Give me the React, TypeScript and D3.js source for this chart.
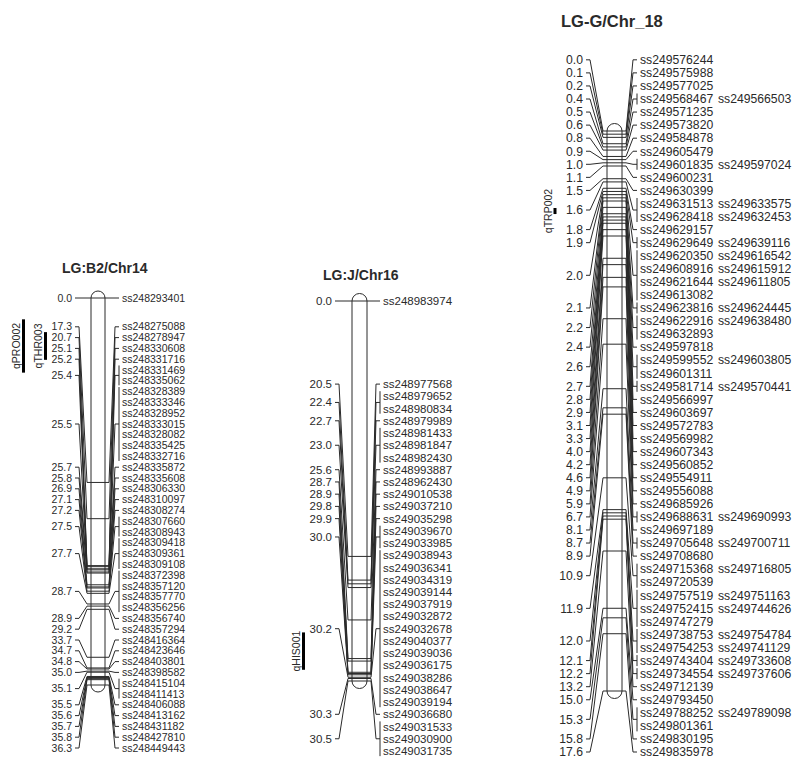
import * as d3 from "d3";

// ---- LG:B2/Chr14 ----
const chr14Pos = [0.0, 17.3, 20.7, 25.1, 25.2, 25.4, 25.5, 25.7, 25.8, 26.9, 27.1, 27.2, 27.5, 27.7, 28.7, 28.9, 29.2, 33.7, 34.7, 34.8, 35.0, 35.1, 35.5, 35.6, 35.7, 35.8, 36.3];
const chr14Markers = [
  ["ss248293401"],
  ["ss248275088"],
  ["ss248278947"],
  ["ss248330608"],
  ["ss248331716"],
  ["ss248331469", "ss248335062"],
  ["ss248328389", "ss248333346", "ss248328952", "ss248333015", "ss248328082", "ss248335425", "ss248332716"],
  ["ss248335872"],
  ["ss248335608"],
  ["ss248306330"],
  ["ss248310097"],
  ["ss248308274"],
  ["ss248307660", "ss248308943"],
  ["ss248309418", "ss248309361", "ss248309108"],
  ["ss248372398", "ss248357120", "ss248357770", "ss248356256"],
  ["ss248356740"],
  ["ss248357294"],
  ["ss248416364"],
  ["ss248423646"],
  ["ss248403801"],
  ["ss248398582"],
  ["ss248415104", "ss248411413"],
  ["ss248406088"],
  ["ss248413162"],
  ["ss248431182"],
  ["ss248427810"],
  ["ss248449443"],
];

// ---- LG:J/Chr16 ----
const chr16Pos = [0.0, 20.5, 22.4, 22.7, 23.0, 25.6, 28.7, 28.9, 29.8, 29.9, 30.0, 30.2, 30.3, 30.5];
const chr16Markers = [
  ["ss248983974"],
  ["ss248977568"],
  ["ss248979652", "ss248980834"],
  ["ss248979989"],
  ["ss248981433", "ss248981847", "ss248982430"],
  ["ss248993887"],
  ["ss248962430"],
  ["ss249010538"],
  ["ss249037210"],
  ["ss249035298"],
  ["ss249039670", "ss249033985"],
  ["ss249038943", "ss249036341", "ss249034319", "ss249039144", "ss249037919", "ss249032872", "ss249032678",
    "ss249040377", "ss249039036", "ss249036175", "ss249038286", "ss249038647", "ss249039194"],
  ["ss249036680"],
  ["ss249031533", "ss249030900", "ss249031735"],
];

// ---- LG-G/Chr_18 ----
const chr18Pos = [0.0, 0.1, 0.2, 0.4, 0.5, 0.6, 0.8, 0.9, 1.0, 1.1, 1.5, 1.6, 1.8, 1.9, 2.0, 2.1, 2.2, 2.4, 2.6, 2.7, 2.8, 2.9, 3.1, 3.3,
  4.0, 4.2, 4.6, 4.9, 5.9, 6.7, 8.1, 8.7, 8.9, 10.9, 11.9, 12.0, 12.1, 12.2, 13.2, 15.0, 15.3, 15.8, 17.6];
const chr18Markers = [
  ["ss249576244"],
  ["ss249575988"],
  ["ss249577025"],
  ["ss249568467", "ss249566503"],
  ["ss249571235"],
  ["ss249573820"],
  ["ss249584878"],
  ["ss249605479"],
  ["ss249601835", "ss249597024"],
  ["ss249600231"],
  ["ss249630399"],
  ["ss249631513", "ss249633575", "ss249628418", "ss249632453"],
  ["ss249629157"],
  ["ss249629649", "ss249639116"],
  ["ss249620350", "ss249616542", "ss249608916", "ss249615912", "ss249621644", "ss249611805", "ss249613082"],
  ["ss249623816", "ss249624445"],
  ["ss249622916", "ss249638480", "ss249632893"],
  ["ss249597818"],
  ["ss249599552", "ss249603805", "ss249601311"],
  ["ss249581714", "ss249570441"],
  ["ss249566997"],
  ["ss249603697"],
  ["ss249572783"],
  ["ss249569982"],
  ["ss249607343"],
  ["ss249560852"],
  ["ss249554911"],
  ["ss249556088"],
  ["ss249685926"],
  ["ss249688631", "ss249690993"],
  ["ss249697189"],
  ["ss249705648", "ss249700711"],
  ["ss249708680"],
  ["ss249715368", "ss249716805", "ss249720539"],
  ["ss249757519", "ss249751163", "ss249752415", "ss249744626", "ss249747279"],
  ["ss249738753", "ss249754784", "ss249754253", "ss249741129"],
  ["ss249743404", "ss249733608"],
  ["ss249734554", "ss249737606"],
  ["ss249712139"],
  ["ss249793450"],
  ["ss249788252", "ss249789098", "ss249801361"],
  ["ss249830195"],
  ["ss249835978"],
];

// QTL intervals (cM) per linkage group
const qtlNames = ["qPRO002", "qTHR003", "qHIS001", "qTRP002"];
const qtlGroup = [0, 0, 1, 2];
const qtlStart = [2.0, 3.2, 26.6, 2.42];
const qtlEnd = [7.0, 5.8, 29.6, 2.61];
const qtlColumn = [0, 1, 0, 0];

const FONT = "'Liberation Sans', Arial, Helvetica, sans-serif";
const INK = "#2a2a2a";

interface Group {
  title: string;
  pos: number[];
  markers: string[][];
  perRow: number;
  y0: number; y1: number;     // bar extent for 0 and max cM
  barX: number; barW: number;
  labelEnd: number; nameX: number; nameGap: number;
  rowH: number; fontSize: number;
  lo: number; hi: number;
  titleX: number; titleY: number; titleSize: number;
  qtlX: number[];
}

const groups: Group[] = [
  {
    title: "LG:B2/Chr14", pos: chr14Pos, markers: chr14Markers, perRow: 1,
    y0: 298, y1: 685, barX: 91, barW: 14, labelEnd: 72, nameX: 122, nameGap: 0,
    rowH: 10.8, fontSize: 10.5, lo: 285, hi: 748,
    titleX: 62, titleY: 273, titleSize: 14, qtlX: [23.5, 45.5],
  },
  {
    title: "LG:J/Chr16", pos: chr16Pos, markers: chr16Markers, perRow: 1,
    y0: 301, y1: 681, barX: 352, barW: 15, labelEnd: 332, nameX: 383, nameGap: 0,
    rowH: 12.23, fontSize: 11.5, lo: 290, hi: 751,
    titleX: 323, titleY: 280, titleSize: 14, qtlX: [303.5],
  },
  {
    title: "LG-G/Chr_18", pos: chr18Pos, markers: chr18Markers, perRow: 2,
    y0: 131, y1: 691, barX: 607, barW: 15, labelEnd: 583, nameX: 640, nameGap: 78,
    rowH: 13.06, fontSize: 12.2, lo: 60, hi: 752,
    titleX: 561, titleY: 27, titleSize: 16.5, qtlX: [555],
  },
];

// MapChart-like label spreading: clusters of rows centred on their wanted positions
function spread(want: number[], rows: number[], rowH: number, lo: number, hi: number): number[] {
  let clusters = want.map((_, i) => ({ a: i, b: i, start: 0, total: 0 }));
  const place = (c: { a: number; b: number; start: number; total: number }) => {
    let before = 0, sum = 0, cnt = 0;
    for (let k = c.a; k <= c.b; k++) {
      const s = want[k] - ((rows[k] - 1) / 2) * rowH - before * rowH;
      sum += s * rows[k];
      cnt += rows[k];
      before += rows[k];
    }
    c.total = before;
    c.start = Math.min(Math.max(sum / cnt, lo), hi - (before - 1) * rowH);
  };
  let merged = true;
  while (merged) {
    clusters.forEach(place);
    merged = false;
    for (let i = 0; i < clusters.length - 1; i++) {
      const c = clusters[i], d = clusters[i + 1];
      if (c.start + c.total * rowH > d.start + 0.01) {
        clusters.splice(i, 2, { a: c.a, b: d.b, start: 0, total: 0 });
        merged = true;
        break;
      }
    }
  }
  const out: number[] = [];
  clusters.forEach(c => {
    let y = c.start;
    for (let k = c.a; k <= c.b; k++) {
      out[k] = y;
      y += rows[k] * rowH;
    }
  });
  return out;
}

function LinkageGroup({ g, gi }: { g: Group; gi: number }) {
  const maxPos = d3.max(g.pos) ?? 1;
  const y = d3.scaleLinear().domain([0, maxPos]).range([g.y0, g.y1]);
  const rows = g.markers.map(m => Math.ceil(m.length / g.perRow));
  const want = g.pos.map(p => y(p));
  const firstRow = spread(want, rows, g.rowH, g.lo, g.hi);
  const barR = g.barX + g.barW;
  const r = g.barW / 2;

  return (
    <g>
      <text x={g.titleX} y={g.titleY} fontFamily={FONT} fontWeight="bold" fontSize={g.titleSize} fill={INK}>
        {g.title}
      </text>

      {/* connectors */}
      {g.pos.map((p, i) => {
        const ly = firstRow[i] + ((rows[i] - 1) / 2) * g.rowH;
        const py = y(p);
        const left = `M${g.labelEnd + 3},${ly}H${g.labelEnd + 7}L${g.barX - 4},${py}H${g.barX}`;
        const right = `M${barR},${py}H${barR + 4}L${g.nameX - 7},${ly}H${g.nameX - 3}`;
        return (
          <g key={"c" + i} fill="none" stroke={INK} strokeWidth={1}>
            <path d={left} />
            <path d={right} />
            {g.markers[i].length > 1 && (
              <line x1={g.nameX - 3} x2={g.nameX - 3}
                y1={firstRow[i] - 0.42 * g.rowH}
                y2={firstRow[i] + (rows[i] - 1) * g.rowH + 0.42 * g.rowH} />
            )}
          </g>
        );
      })}

      {/* chromosome bar */}
      <rect x={g.barX} y={y(0) - r} width={g.barW} height={y(maxPos) - y(0) + 2 * r}
        rx={r} ry={r} fill="#fff" stroke={INK} strokeWidth={1} />
      {g.pos.map((p, i) => (
        <line key={"b" + i} x1={g.barX} x2={barR} y1={y(p)} y2={y(p)} stroke={INK} strokeWidth={1} />
      ))}

      {/* position labels */}
      {g.pos.map((p, i) => (
        <text key={"l" + i} x={g.labelEnd} y={firstRow[i] + ((rows[i] - 1) / 2) * g.rowH} dy="0.35em"
          textAnchor="end" fontFamily={FONT} fontSize={g.fontSize} fill={INK}>
          {p.toFixed(1)}
        </text>
      ))}

      {/* marker names */}
      {g.markers.map((m, i) =>
        m.map((name, j) => (
          <text key={`n${i}_${j}`} x={g.nameX + (j % g.perRow) * g.nameGap}
            y={firstRow[i] + Math.floor(j / g.perRow) * g.rowH} dy="0.35em"
            fontFamily={FONT} fontSize={g.fontSize} fill={INK}>
            {name}
          </text>
        ))
      )}

      {/* QTLs */}
      {qtlNames.map((q, k) => {
        if (qtlGroup[k] !== gi) return null;
        const x = g.qtlX[qtlColumn[k]];
        const ya = y(qtlStart[k]), yb = y(qtlEnd[k]);
        const yc = (ya + yb) / 2;
        return (
          <g key={q}>
            <line x1={x} x2={x} y1={ya} y2={yb} stroke="#000" strokeWidth={3} />
            <text transform={`translate(${x - 7},${yc}) rotate(-90)`} dy="0.35em" textAnchor="middle"
              fontFamily={FONT} fontSize={10.5} fill={INK}>
              {q}
            </text>
          </g>
        );
      })}
    </g>
  );
}

export default function App() {
  return (
    <svg width={792} height={758} style={{ position: "absolute", left: 0, top: 0, background: "#fff" }}>
      <rect width={792} height={758} fill="#fff" />
      {groups.map((g, i) => <LinkageGroup key={g.title} g={g} gi={i} />)}
    </svg>
  );
}
